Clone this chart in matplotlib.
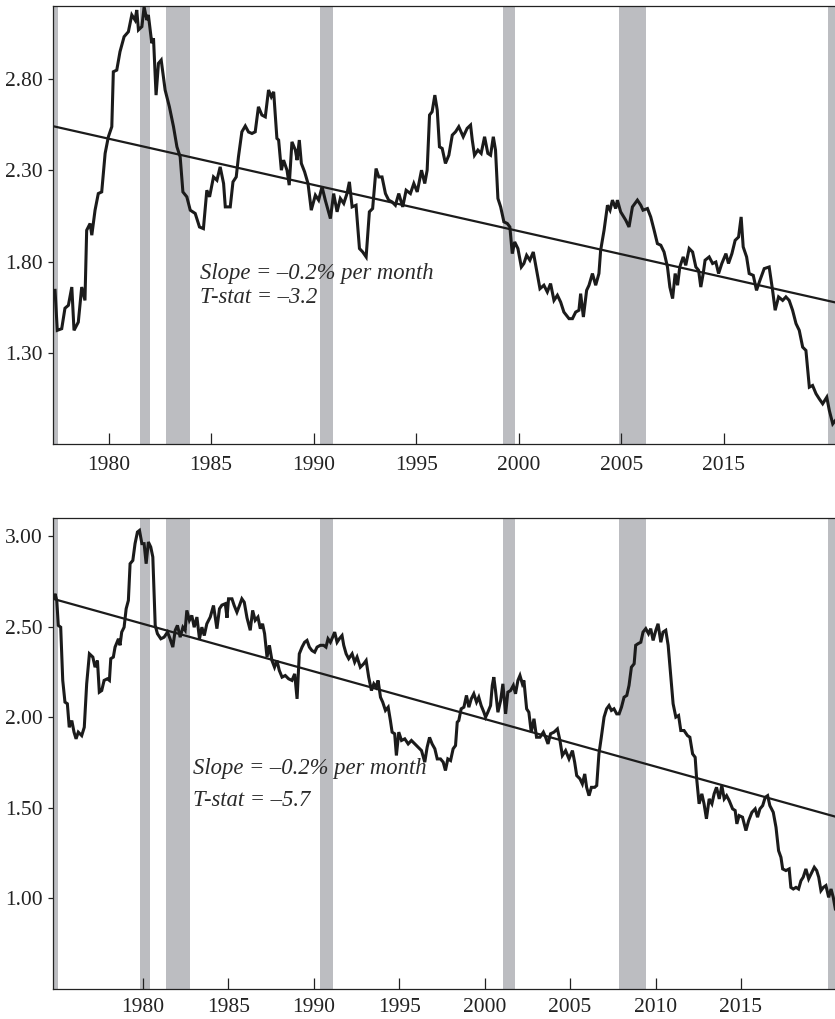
import matplotlib
matplotlib.use("Agg")
import matplotlib.pyplot as plt

# ---------------- data ----------------
top_years = [1974.87, 1975.00, 1975.26, 1975.45, 1975.65, 1975.85, 1975.98, 1976.23, 1976.43, 1976.62,
             1976.72, 1976.92, 1977.02, 1977.21, 1977.40, 1977.60, 1977.80, 1977.99, 1978.19, 1978.28,
             1978.48, 1978.67, 1978.91, 1979.16, 1979.36, 1979.55, 1979.65, 1979.75, 1979.95, 1980.08,
             1980.24, 1980.33, 1980.53, 1980.63, 1980.78, 1980.92, 1981.08, 1981.31, 1981.56, 1981.80,
             1982.00, 1982.19, 1982.35, 1982.58, 1982.78, 1983.07, 1983.32, 1983.55, 1983.75, 1983.91,
             1984.14, 1984.34, 1984.53, 1984.73, 1984.83, 1985.12, 1985.28, 1985.47, 1985.60, 1985.80,
             1986.00, 1986.19, 1986.39, 1986.58, 1986.77, 1986.97, 1987.17, 1987.36, 1987.52, 1987.66,
             1987.85, 1987.95, 1988.11, 1988.24, 1988.44, 1988.57, 1988.73, 1988.93, 1989.03, 1989.16,
             1989.28, 1989.47, 1989.67, 1989.86, 1990.10, 1990.29, 1990.49, 1990.68, 1990.98, 1991.17,
             1991.37, 1991.56, 1991.76, 1991.95, 1992.09, 1992.25, 1992.48, 1992.68, 1992.87, 1993.07,
             1993.26, 1993.45, 1993.65, 1993.81, 1994.00, 1994.20, 1994.39, 1994.59, 1994.78, 1994.98,
             1995.21, 1995.41, 1995.66, 1995.86, 1996.06, 1996.31, 1996.50, 1996.64, 1996.78, 1996.93,
             1997.09, 1997.23, 1997.36, 1997.52, 1997.71, 1997.91, 1998.11, 1998.30, 1998.49, 1998.75,
             1998.98, 1999.18, 1999.28, 1999.41, 1999.61, 1999.80, 2000.00, 2000.19, 2000.35, 2000.51,
             2000.64, 2000.78, 2000.94, 2001.13, 2001.33, 2001.48, 2001.62, 2001.76, 2001.95, 2002.15,
             2002.30, 2002.46, 2002.65, 2002.85, 2003.08, 2003.24, 2003.47, 2003.67, 2003.86, 2004.06,
             2004.26, 2004.45, 2004.64, 2004.94, 2005.14, 2005.33, 2005.52, 2005.62, 2005.78, 2005.97,
             2006.11, 2006.31, 2006.50, 2006.69, 2006.79, 2006.99, 2007.19, 2007.34, 2007.48, 2007.67,
             2007.77, 2007.96, 2008.26, 2008.45, 2008.65, 2008.94, 2009.14, 2009.27, 2009.53, 2009.72,
             2009.92, 2010.11, 2010.31, 2010.50, 2010.70, 2010.84, 2011.00, 2011.15, 2011.29, 2011.42,
             2011.62, 2011.77, 2011.97, 2012.17, 2012.36, 2012.52, 2012.65, 2012.79, 2012.90, 2013.14,
             2013.34, 2013.53, 2013.69, 2013.88, 2014.12, 2014.27, 2014.47, 2014.66, 2014.86, 2015.01,
             2015.13, 2015.33, 2015.48, 2015.72, 2015.91, 2016.11, 2016.36, 2016.65, 2016.85, 2017.00,
             2017.20, 2017.44, 2017.63, 2017.82, 2018.02, 2018.22, 2018.41, 2018.61, 2018.80, 2019.00,
             2019.19, 2019.39, 2019.58, 2019.78, 2020.02, 2020.17, 2020.37, 2020.52]
top_values = [1.643, 1.424, 1.433, 1.545, 1.561, 1.661, 1.424, 1.469, 1.661, 1.588,
              1.972, 2.009, 1.945, 2.082, 2.173, 2.182, 2.393, 2.484, 2.539, 2.840,
              2.849, 2.950, 3.032, 3.059, 3.151, 3.123, 3.178, 3.069, 3.087, 3.195,
              3.123, 3.151, 2.996, 3.023, 2.712, 2.886, 2.904, 2.740, 2.648, 2.539,
              2.429, 2.374, 2.182, 2.155, 2.082, 2.064, 1.990, 1.981, 2.191, 2.155,
              2.264, 2.246, 2.319, 2.228, 2.100, 2.100, 2.237, 2.264, 2.374, 2.511,
              2.543, 2.510, 2.502, 2.511, 2.648, 2.603, 2.593, 2.740, 2.703, 2.730,
              2.475, 2.466, 2.301, 2.356, 2.301, 2.219, 2.456, 2.411, 2.356, 2.466,
              2.338, 2.292, 2.228, 2.082, 2.164, 2.137, 2.210, 2.137, 2.036, 2.173,
              2.073, 2.146, 2.119, 2.173, 2.237, 2.100, 2.109, 1.872, 1.853, 1.826,
              2.073, 2.091, 2.310, 2.264, 2.264, 2.173, 2.137, 2.127, 2.109, 2.173,
              2.100, 2.191, 2.173, 2.228, 2.182, 2.301, 2.228, 2.301, 2.603, 2.621,
              2.712, 2.630, 2.429, 2.420, 2.338, 2.383, 2.493, 2.511, 2.539, 2.484,
              2.530, 2.548, 2.466, 2.383, 2.411, 2.393, 2.484, 2.393, 2.383, 2.484,
              2.411, 2.146, 2.100, 2.018, 2.009, 1.990, 1.844, 1.908, 1.872, 1.771,
              1.790, 1.835, 1.808, 1.853, 1.735, 1.652, 1.671, 1.634, 1.680, 1.588,
              1.616, 1.579, 1.524, 1.488, 1.488, 1.524, 1.534, 1.625, 1.497, 1.643,
              1.671, 1.735, 1.671, 1.735, 1.862, 1.972, 2.109, 2.082, 2.137, 2.091,
              2.137, 2.073, 2.027, 1.990, 2.100, 2.137, 2.109, 2.082, 2.091, 2.045,
              1.972, 1.899, 1.890, 1.853, 1.771, 1.661, 1.598, 1.735, 1.671, 1.771,
              1.826, 1.780, 1.872, 1.853, 1.771, 1.753, 1.661, 1.735, 1.808, 1.826,
              1.790, 1.798, 1.735, 1.790, 1.844, 1.790, 1.844, 1.917, 1.935, 2.045,
              1.881, 1.826, 1.735, 1.725, 1.643, 1.698, 1.762, 1.771, 1.643, 1.534,
              1.607, 1.588, 1.607, 1.588, 1.534, 1.461, 1.424, 1.332, 1.314, 1.113,
              1.122, 1.077, 1.049, 1.022, 1.058, 0.985, 0.912, 0.930]

bottom_years = [1974.81, 1974.87, 1974.97, 1975.06, 1975.20, 1975.32, 1975.45, 1975.59, 1975.70, 1975.85,
                1975.98, 1976.10, 1976.23, 1976.43, 1976.58, 1976.72, 1976.88, 1977.08, 1977.21, 1977.35,
                1977.46, 1977.60, 1977.74, 1977.93, 1978.05, 1978.13, 1978.28, 1978.38, 1978.58, 1978.67,
                1978.77, 1978.91, 1979.03, 1979.16, 1979.26, 1979.42, 1979.55, 1979.69, 1979.81, 1979.95,
                1980.08, 1980.20, 1980.33, 1980.47, 1980.59, 1980.73, 1980.86, 1981.06, 1981.25, 1981.45,
                1981.60, 1981.76, 1981.90, 1982.03, 1982.19, 1982.35, 1982.48, 1982.58, 1982.73, 1982.87,
                1983.01, 1983.17, 1983.32, 1983.46, 1983.60, 1983.75, 1983.95, 1984.14, 1984.34, 1984.49,
                1984.63, 1984.83, 1984.93, 1985.02, 1985.22, 1985.35, 1985.51, 1985.66, 1985.80, 1985.94,
                1986.10, 1986.29, 1986.43, 1986.58, 1986.74, 1986.88, 1987.01, 1987.13, 1987.27, 1987.41,
                1987.56, 1987.71, 1987.85, 1987.99, 1988.15, 1988.34, 1988.53, 1988.73, 1988.89, 1989.03,
                1989.16, 1989.32, 1989.47, 1989.61, 1989.75, 1989.90, 1990.06, 1990.20, 1990.39, 1990.58,
                1990.72, 1990.84, 1990.98, 1991.11, 1991.23, 1991.37, 1991.50, 1991.66, 1991.76, 1991.90,
                1992.05, 1992.25, 1992.40, 1992.54, 1992.73, 1992.93, 1993.07, 1993.22, 1993.38, 1993.52,
                1993.65, 1993.77, 1993.91, 1994.04, 1994.20, 1994.36, 1994.49, 1994.59, 1994.74, 1994.84,
                1994.98, 1995.14, 1995.33, 1995.53, 1995.72, 1995.92, 1996.11, 1996.31, 1996.50, 1996.64,
                1996.78, 1996.93, 1997.09, 1997.23, 1997.42, 1997.58, 1997.71, 1997.85, 1998.01, 1998.16,
                1998.30, 1998.40, 1998.49, 1998.63, 1998.79, 1998.94, 1999.08, 1999.22, 1999.37, 1999.53,
                1999.66, 1999.80, 1999.96, 2000.06, 2000.19, 2000.35, 2000.45, 2000.54, 2000.64, 2000.78,
                2000.94, 2001.07, 2001.23, 2001.36, 2001.52, 2001.68, 2001.81, 2001.95, 2002.07, 2002.21,
                2002.30, 2002.46, 2002.59, 2002.73, 2002.89, 2003.04, 2003.24, 2003.44, 2003.57, 2003.71,
                2003.86, 2004.06, 2004.26, 2004.41, 2004.55, 2004.74, 2004.94, 2005.14, 2005.27, 2005.39,
                2005.58, 2005.72, 2005.86, 2005.97, 2006.11, 2006.25, 2006.44, 2006.56, 2006.69, 2006.83,
                2006.99, 2007.14, 2007.28, 2007.42, 2007.57, 2007.73, 2007.87, 2008.01, 2008.16, 2008.32,
                2008.45, 2008.59, 2008.75, 2008.84, 2008.98, 2009.14, 2009.27, 2009.43, 2009.59, 2009.72,
                2009.86, 2010.02, 2010.15, 2010.31, 2010.44, 2010.60, 2010.74, 2010.90, 2011.03, 2011.19,
                2011.35, 2011.48, 2011.67, 2011.87, 2012.01, 2012.17, 2012.32, 2012.40, 2012.55, 2012.71,
                2012.84, 2012.98, 2013.14, 2013.30, 2013.43, 2013.57, 2013.73, 2013.88, 2014.02, 2014.16,
                2014.31, 2014.51, 2014.66, 2014.76, 2014.89, 2015.09, 2015.29, 2015.45, 2015.64, 2015.83,
                2015.97, 2016.11, 2016.27, 2016.42, 2016.56, 2016.69, 2016.89, 2017.05, 2017.20, 2017.34,
                2017.44, 2017.63, 2017.82, 2017.92, 2018.06, 2018.22, 2018.37, 2018.51, 2018.64, 2018.80,
                2018.96, 2019.10, 2019.29, 2019.43, 2019.55, 2019.68, 2019.82, 2019.97, 2020.13, 2020.27,
                2020.40, 2020.52]
bottom_values = [2.660, 2.683, 2.646, 2.508, 2.498, 2.204, 2.084, 2.075, 1.945, 1.982,
                 1.918, 1.881, 1.918, 1.899, 1.945, 2.185, 2.351, 2.333, 2.277, 2.314,
                 2.139, 2.148, 2.204, 2.213, 2.204, 2.324, 2.333, 2.388, 2.434, 2.398,
                 2.471, 2.498, 2.600, 2.646, 2.849, 2.867, 2.960, 3.024, 3.033, 2.960,
                 2.960, 2.849, 2.969, 2.941, 2.886, 2.508, 2.462, 2.434, 2.443, 2.471,
                 2.434, 2.388, 2.481, 2.508, 2.443, 2.498, 2.481, 2.591, 2.536, 2.563,
                 2.498, 2.554, 2.434, 2.498, 2.452, 2.517, 2.554, 2.618, 2.490, 2.600,
                 2.620, 2.628, 2.550, 2.655, 2.655, 2.618, 2.581, 2.618, 2.655, 2.636,
                 2.550, 2.481, 2.591, 2.536, 2.554, 2.490, 2.517, 2.462, 2.333, 2.398,
                 2.314, 2.277, 2.314, 2.259, 2.222, 2.231, 2.213, 2.204, 2.240, 2.102,
                 2.351, 2.388, 2.415, 2.425, 2.388, 2.369, 2.360, 2.388, 2.398, 2.398,
                 2.388, 2.434, 2.415, 2.443, 2.471, 2.415, 2.434, 2.452, 2.398, 2.351,
                 2.324, 2.351, 2.305, 2.333, 2.277, 2.296, 2.314, 2.222, 2.148, 2.185,
                 2.167, 2.204, 2.111, 2.084, 2.038, 2.056, 1.982, 1.918, 1.909, 1.789,
                 1.918, 1.872, 1.881, 1.853, 1.872, 1.853, 1.835, 1.816, 1.752, 1.835,
                 1.889, 1.853, 1.826, 1.770, 1.770, 1.752, 1.706, 1.770, 1.761, 1.826,
                 1.844, 1.973, 1.982, 2.047, 2.056, 2.121, 2.056, 2.102, 2.130, 2.084,
                 2.111, 2.065, 2.028, 2.001, 2.028, 2.065, 2.176, 2.222, 2.148, 2.028,
                 2.093, 2.185, 2.019, 2.139, 2.148, 2.176, 2.130, 2.204, 2.231, 2.185,
                 2.204, 2.047, 2.028, 1.918, 1.992, 1.890, 1.890, 1.918, 1.890, 1.853,
                 1.909, 1.918, 1.936, 1.872, 1.789, 1.816, 1.770, 1.816, 1.752, 1.678,
                 1.660, 1.632, 1.687, 1.613, 1.567, 1.613, 1.613, 1.623, 1.798, 1.890,
                 2.001, 2.047, 2.065, 2.038, 2.047, 2.019, 2.019, 2.056, 2.111, 2.121,
                 2.176, 2.277, 2.296, 2.398, 2.407, 2.415, 2.471, 2.490, 2.462, 2.490,
                 2.425, 2.481, 2.517, 2.415, 2.471, 2.481, 2.398, 2.222, 2.075, 2.001,
                 2.010, 1.927, 1.927, 1.899, 1.890, 1.798, 1.779, 1.669, 1.522, 1.577,
                 1.522, 1.439, 1.549, 1.522, 1.577, 1.613, 1.549, 1.623, 1.549, 1.567,
                 1.540, 1.494, 1.485, 1.411, 1.457, 1.448, 1.374, 1.429, 1.475, 1.494,
                 1.448, 1.494, 1.512, 1.558, 1.567, 1.512, 1.475, 1.392, 1.263, 1.226,
                 1.162, 1.153, 1.162, 1.060, 1.051, 1.060, 1.051, 1.097, 1.116, 1.162,
                 1.107, 1.134, 1.171, 1.153, 1.116, 1.042, 1.060, 1.070, 1.005, 1.051,
                 1.005, 0.941]

recession_starts = [1973.83, 1979.85, 1981.35, 1990.39, 2001.07, 2007.89, 2020.11]
recession_ends = [1975.05, 1980.42, 1982.74, 1991.11, 2001.80, 2009.43, 2021.00]

x_range = [1974.75, 2020.56]
top_trend = [2.542, 1.576]
bottom_trend = [2.655, 1.450]

top_ylim = [0.80, 3.20]
bottom_ylim = [0.50, 3.10]
top_yticks = [1.30, 1.80, 2.30, 2.80]
bottom_yticks = [1.00, 1.50, 2.00, 2.50, 3.00]
top_xtick_pos = [1978, 1984, 1990, 1996, 2002, 2008, 2014]
top_xtick_labels = ["1980", "1985", "1990", "1995", "2000", "2005", "2015"]
bottom_xtick_pos = [1980, 1985, 1990, 1995, 2000, 2005, 2010, 2015]
bottom_xtick_labels = ["1980", "1985", "1990", "1995", "2000", "2005", "2010", "2015"]

top_notes = ["Slope = \u20130.2% per month", "T-stat = \u20133.2"]
bottom_notes = ["Slope = \u20130.2% per month", "T-stat = \u20135.7"]

# ---------------- style ----------------
plt.rcParams['font.family'] = ['Liberation Serif', 'DejaVu Serif']
LINE = '#1b1b1b'
BAR = '#bcbdc1'
W, H = 835, 1019

fig = plt.figure(figsize=(W / 100, H / 100), dpi=100)
ax_top = fig.add_axes([53 / W, 1 - 444.3 / H, (836 - 53) / W, (444.3 - 6) / H])
ax_bot = fig.add_axes([53 / W, 1 - 988.7 / H, (836 - 53) / W, (988.7 - 518.3) / H])


def draw(ax, years, values, trend, ylim, yticks, xpos, xlabels, notes, note_x, note_y, xpad):
    for s, e in zip(recession_starts, recession_ends):
        ax.axvspan(s, e, color=BAR, lw=0, zorder=0)
    ax.plot(x_range, trend, color=LINE, lw=1.6, zorder=2, solid_capstyle='butt')
    ax.plot(years, values, color=LINE, lw=2.2, zorder=3, solid_joinstyle='miter')
    ax.set_xlim(x_range)
    ax.set_ylim(ylim)
    ax.set_yticks(yticks)
    ax.set_yticklabels(["%.2f" % v for v in yticks])
    ax.set_xticks(xpos)
    ax.set_xticklabels(xlabels)
    ax.tick_params(axis='y', direction='out', length=3.5, width=0.9, pad=4,
                   labelsize=15.5, colors='#222222')
    ax.tick_params(axis='x', direction='in', length=8, width=0.9, pad=xpad,
                   labelsize=15.5, colors='#222222')
    ax.spines['right'].set_visible(False)
    for sp in ['left', 'top', 'bottom']:
        ax.spines[sp].set_linewidth(0.9)
        ax.spines[sp].set_color('#222222')
    for txt, yv in zip(notes, note_y):
        ax.text(note_x, yv, txt, fontsize=16.3, style='italic', color='#2a2a2a',
                va='baseline', ha='left', zorder=4)


draw(ax_top, top_years, top_values, top_trend, top_ylim, top_yticks,
     top_xtick_pos, top_xtick_labels, top_notes, 1983.36, [1.707, 1.574], 8.5)
draw(ax_bot, bottom_years, bottom_values, bottom_trend, bottom_ylim, bottom_yticks,
     bottom_xtick_pos, bottom_xtick_labels, bottom_notes, 1982.93, [1.684, 1.512], 6.5)

fig.savefig("out.png", dpi=100)
